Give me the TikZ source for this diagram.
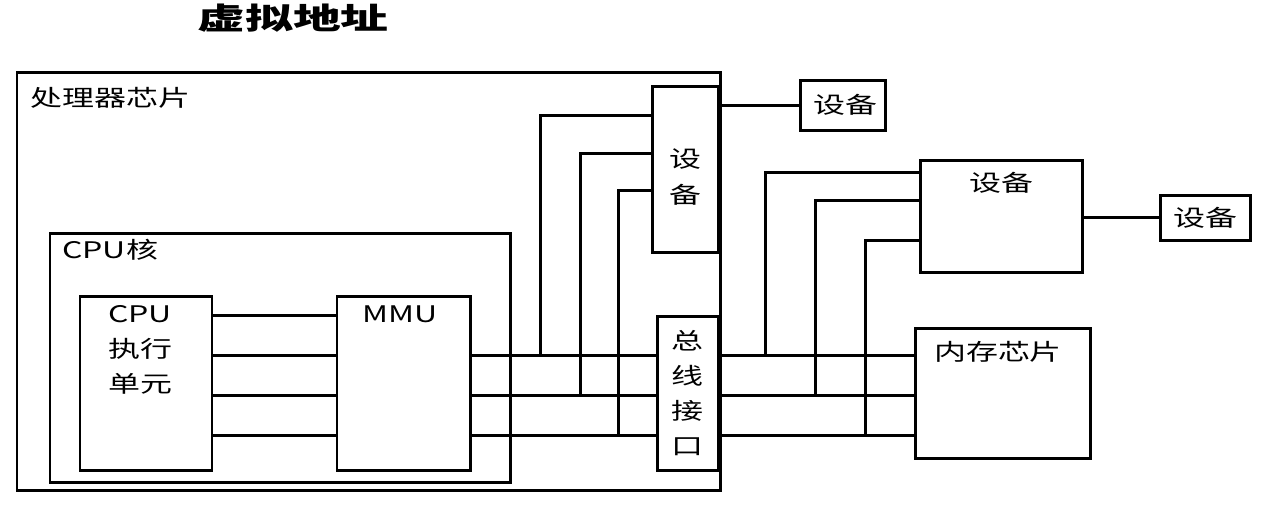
\documentclass[tikz,border=0pt]{standalone}
\usepackage{fontspec}
\usepackage{graphicx}
\setmainfont{Noto Sans CJK SC}
\newcommand\widetxt[1]{\scalebox{1.4}[1]{#1}}
\begin{document}
\begin{tikzpicture}[
    x=0.02cm,y=-0.02cm,
    box/.style={draw,line width=1.7pt,inner sep=0pt},
    bus/.style={line width=1.7pt},
    lbl/.style={font=\fontsize{13}{20}\selectfont,inner sep=0pt},
  ]
  \useasboundingbox (0,0) rectangle (1263,505);
  \node[font=\fontsize{17}{20}\selectfont\bfseries] (title) at (293,18) {\scalebox{1.6}[1]{虚拟地址}};
  % boxes
  \node[box,minimum width=703*0.02cm,minimum height=418*0.02cm] (chip) at (368.5,281) {};
  \node[lbl,anchor=west] at (30,98) {\widetxt{处理器芯片}};
  \node[box,minimum width=460*0.02cm,minimum height=249*0.02cm] (core) at (280,357.5) {};
  \node[lbl,anchor=west] at (62,250) {\widetxt{CPU核}};
  \node[box,minimum width=132*0.02cm,minimum height=174*0.02cm] (cpu) at (146,383) {};
  \node[lbl,align=center,anchor=north] at (140,305) {\widetxt{CPU}\\\widetxt{执行}\\\widetxt{单元}};
  \node[box,minimum width=133*0.02cm,minimum height=174*0.02cm] (mmu) at (403.5,383) {};
  \node[lbl,anchor=north] at (400,305) {\widetxt{MMU}};
  \node[box,minimum width=66*0.02cm,minimum height=166*0.02cm] (dev1) at (685,169) {};
  \node[lbl,align=center] at (685,177) {\widetxt{设}\\\widetxt{备}};
  \node[box,minimum width=61*0.02cm,minimum height=154*0.02cm] (bif) at (687.5,393) {};
  \node[lbl,align=center] at (687.5,393) {\widetxt{总}\\\widetxt{线}\\\widetxt{接}\\\widetxt{口}};
  \node[box,minimum width=85*0.02cm,minimum height=50*0.02cm] (dev2) at (842.5,105) {};
  \node[lbl] at (845,105) {\widetxt{设备}};
  \node[box,minimum width=162*0.02cm,minimum height=112*0.02cm] (dev3) at (1001,216) {};
  \node[lbl,anchor=north] at (1001,172) {\widetxt{设备}};
  \node[box,minimum width=90*0.02cm,minimum height=45*0.02cm] (dev4) at (1205,217.5) {};
  \node[lbl] at (1205,217.5) {\widetxt{设备}};
  \node[box,minimum width=175*0.02cm,minimum height=130*0.02cm] (mem) at (1002.5,393) {};
  \node[lbl,anchor=north] at (998,341) {\widetxt{内存芯片}};
  % bus levels
  \coordinate (l0) at (0,315);
  \coordinate (l1) at (0,355);
  \coordinate (l2) at (0,395);
  \coordinate (l3) at (0,435);
  \foreach \l in {l0,l1,l2,l3}
    \draw[bus] (cpu.east |- \l) -- (mmu.west |- \l);
  \foreach \l in {l1,l2,l3} {
    \draw[bus] (mmu.east |- \l) -- (bif.west |- \l);
    \draw[bus] (bif.east |- \l) -- (mem.west |- \l);
  }
  % taps to devices
  \draw[bus] (540,355) |- (dev1.west |- 0,115);
  \draw[bus] (580,395) |- (dev1.west |- 0,153);
  \draw[bus] (618,435) |- (dev1.west |- 0,190);
  \draw[bus] (765,355) |- (dev3.west |- 0,172);
  \draw[bus] (815,395) |- (dev3.west |- 0,200);
  \draw[bus] (865,435) |- (dev3.west |- 0,240);
  \draw[bus] (dev1.east |- dev2) -- (dev2.west);
  \draw[bus] (dev3.east |- dev4) -- (dev4.west);
\end{tikzpicture}
\end{document}
